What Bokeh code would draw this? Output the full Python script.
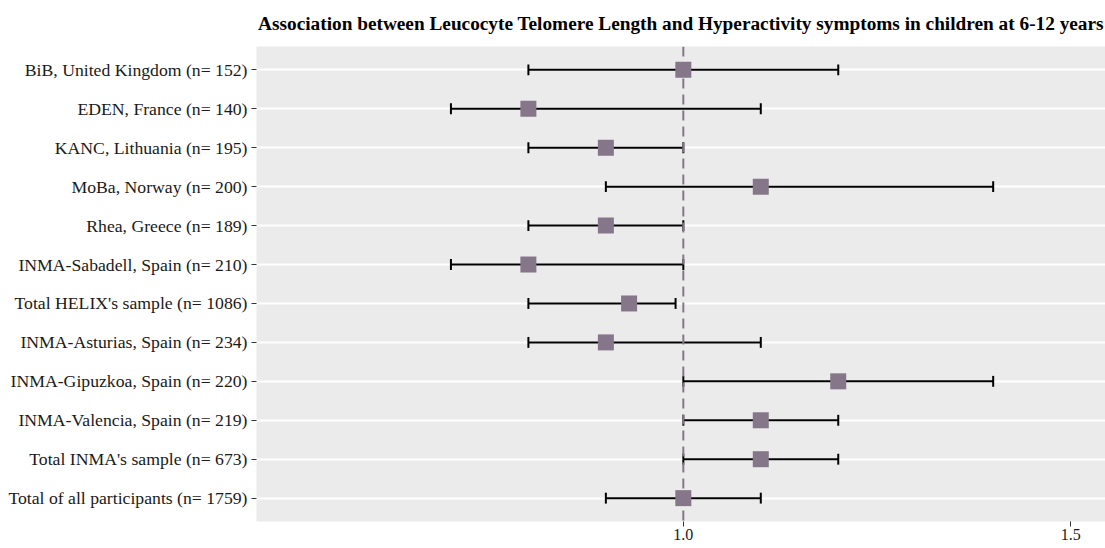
from bokeh.plotting import figure
from bokeh.models import Range1d, FixedTicker, Span
from bokeh.embed import file_html
from bokeh.resources import INLINE

labels = [
    "BiB, United Kingdom (n= 152)",
    "EDEN, France (n= 140)",
    "KANC, Lithuania (n= 195)",
    "MoBa, Norway (n= 200)",
    "Rhea, Greece (n= 189)",
    "INMA-Sabadell, Spain (n= 210)",
    "Total HELIX's sample (n= 1086)",
    "INMA-Asturias, Spain (n= 234)",
    "INMA-Gipuzkoa, Spain (n= 220)",
    "INMA-Valencia, Spain (n= 219)",
    "Total INMA's sample (n= 673)",
    "Total of all participants (n= 1759)",
]
estimate = [1.0, 0.8, 0.9, 1.1, 0.9, 0.8, 0.93, 0.9, 1.2, 1.1, 1.1, 1.0]
lower = [0.8, 0.7, 0.8, 0.9, 0.8, 0.7, 0.8, 0.8, 1.0, 1.0, 1.0, 0.9]
upper = [1.2, 1.1, 1.0, 1.4, 1.0, 1.0, 0.99, 1.1, 1.4, 1.2, 1.2, 1.1]
x_ticks = [1.0, 1.5]
title = "Association between Leucocyte Telomere Length and Hyperactivity symptoms in children at 6-12 years"

n = len(labels)
rows = [n - i for i in range(n)]

FONT = "Liberation Serif"
PT_COLOR = "#86768A"

p = figure(width=1105, height=548, output_backend="svg", toolbar_location=None,
           x_range=Range1d(0.449, 1.545), y_range=Range1d(0.4, n + 0.6),
           min_border_left=256, min_border_right=0, min_border_top=46, min_border_bottom=27)

p.title.text = title
p.title.align = "center"
p.title.vertical_align = "top"
p.title.text_font = FONT
p.title.text_font_size = "19.3px"
p.title.text_font_style = "bold"
p.title.text_color = "#000000"
p.title.standoff = 21

p.background_fill_color = "#EBEBEB"
p.border_fill_color = "white"
p.outline_line_color = None

p.xgrid.visible = False
p.ygrid.ticker = FixedTicker(ticks=rows)
p.ygrid.grid_line_color = "white"
p.ygrid.grid_line_width = 2

p.yaxis.ticker = FixedTicker(ticks=rows)
p.yaxis.major_label_overrides = {r: lab for r, lab in zip(rows, labels)}
p.yaxis.major_label_text_font = FONT
p.yaxis.major_label_text_font_size = "17.7px"
p.yaxis.major_label_text_color = "#1A1A1A"
p.yaxis.axis_line_color = None
p.yaxis.major_tick_line_color = "#333333"
p.yaxis.major_tick_out = 5
p.yaxis.major_tick_in = 0
p.yaxis.minor_tick_line_color = None
p.yaxis.major_label_standoff = 4

p.xaxis.ticker = FixedTicker(ticks=x_ticks)
p.xaxis.major_label_overrides = {1.0: "1.0", 1.5: "1.5"}
p.xaxis.major_label_text_font = FONT
p.xaxis.major_label_text_font_size = "16px"
p.xaxis.major_label_text_color = "#1A1A1A"
p.xaxis.axis_line_color = None
p.xaxis.major_tick_line_color = "#333333"
p.xaxis.major_tick_out = 5
p.xaxis.major_tick_in = 0
p.xaxis.minor_tick_line_color = None
p.xaxis.major_label_standoff = 2

p.add_layout(Span(location=1.0, dimension="height", line_color=PT_COLOR,
                  line_width=2, line_dash="10 6"))

p.segment(x0=lower, x1=upper, y0=rows, y1=rows, line_color="black", line_width=2)
p.segment(x0=lower, x1=lower, y0=[r - 0.14 for r in rows], y1=[r + 0.14 for r in rows],
          line_color="black", line_width=2)
p.segment(x0=upper, x1=upper, y0=[r - 0.14 for r in rows], y1=[r + 0.14 for r in rows],
          line_color="black", line_width=2)
p.scatter(x=estimate, y=rows, marker="square", size=16, fill_color=PT_COLOR,
          line_color=None)

open("out.html", "w").write(file_html(p, INLINE))
